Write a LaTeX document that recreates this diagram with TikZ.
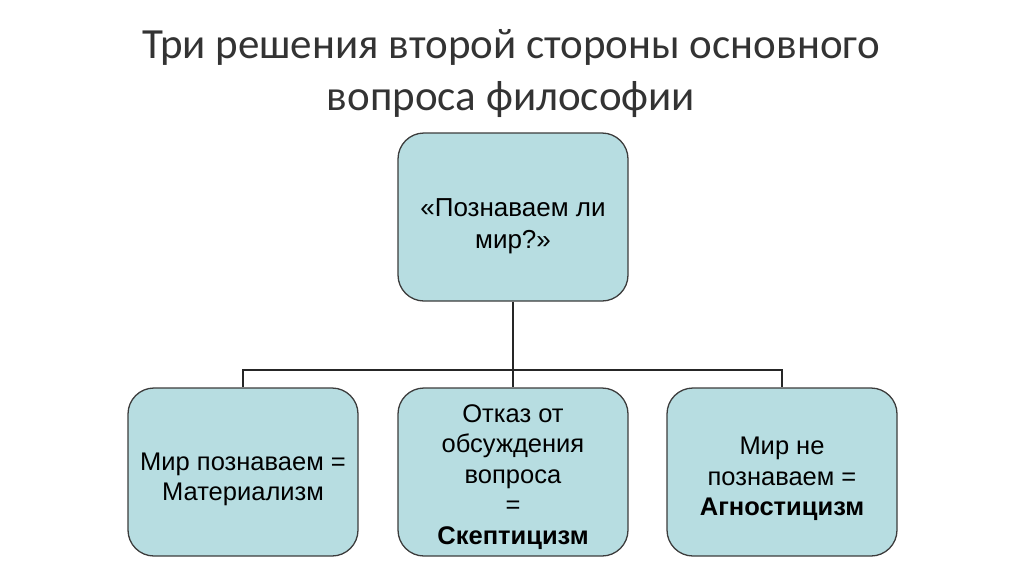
\documentclass[tikz,border=0pt]{standalone}
\usepackage{fontspec}
\setmainfont{Liberation Sans}
\newfontfamily\titlefont{Carlito}
\usetikzlibrary{positioning}
\definecolor{boxfill}{RGB}{183,221,225}
\definecolor{boxline}{RGB}{60,60,60}
\newcommand{\lift}[1]{\rule{0pt}{#1}}
\begin{document}
\begin{tikzpicture}[x=1pt, y=-1pt,
  answer/.style={draw=boxline, line width=1.3pt, fill=boxfill, rounded corners=26pt, align=center,
    minimum width=230pt, minimum height=168pt, inner sep=0pt,
    font=\fontsize{25.5}{30.5}\selectfont},
  link/.style={draw=black!85, line width=2pt}]
\useasboundingbox (0,0) rectangle (1024,574);
% title
\node[align=center, font=\titlefont\fontsize{43}{52}\selectfont, text=black!80] (title) at (511,74) {Три решения второй стороны основного\\вопроса философии};
% boxes
\node[answer, font=\fontsize{26}{32}\selectfont] (question) at (513,217) {\lift{36pt}«Познаваем ли\\мир?»};
\node[answer] (materialism) at (243,472) {\lift{32pt}Мир познаваем =\\Материализм};
\node[answer] (skepticism) at (513,472) {\lift{28pt}Отказ от\\обсуждения\\вопроса\\=\\\textbf{Скептицизм}};
\node[answer] (agnosticism) at (782,472) {\lift{32pt}Мир не\\познаваем =\\\textbf{Агностицизм}};
% connectors
\coordinate (bus) at (513,370);
\draw[link] (question) -- (bus);
\draw[link] (bus) -| (materialism);
\draw[link] (bus) -- (skepticism);
\draw[link] (bus) -| (agnosticism);
\end{tikzpicture}
\end{document}
